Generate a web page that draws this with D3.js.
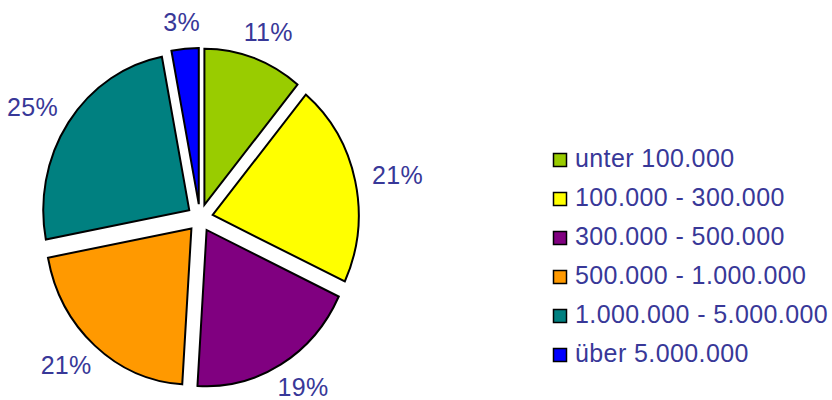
<html>
<head>
  <script src="https://cdn.jsdelivr.net/npm/d3@7"></script>
  <style>
    body { margin: 0; background: #fff; }
    text { font-family: "Liberation Sans", Arial, sans-serif; fill: #383898; }
  </style>
</head>
<body>
<svg id="pie" width="832" height="400"></svg>
<script>
  // data
  const categories = ["unter 100.000", "100.000 - 300.000", "300.000 - 500.000",
                      "500.000 - 1.000.000", "1.000.000 - 5.000.000", "über 5.000.000"];
  const shares = [11, 21, 19, 21, 25, 3];
  const colors = ["#99cc00", "#ffff00", "#800080", "#ff9900", "#008080", "#0000ff"];

  const svg = d3.select("svg#pie");
  const cx = 200, cy = 218;
  const radius = 146, yStretch = 1.07;
  const explode = 13, labelRadius = 177, labelStretch = 1.05;

  const pie = d3.pie().sort(null).value(d => d);
  const arc = d3.arc().innerRadius(0).outerRadius(radius);
  const arcs = pie(shares);

  const chart = svg.append("g")
                   .attr("transform", "translate(" + cx + "," + cy + ") scale(1," + yStretch + ")");

  arcs.forEach((d, i) => {
    const mid = (d.startAngle + d.endAngle) / 2;
    chart.append("path")
         .attr("d", arc(d))
         .attr("transform", "translate(" + (explode * Math.sin(mid)) + "," + (-explode * Math.cos(mid)) + ")")
         .attr("fill", colors[i])
         .attr("stroke", "#000")
         .attr("stroke-width", 2)
         .attr("vector-effect", "non-scaling-stroke");
  });

  // percent labels, box pushed outward from anchor point
  arcs.forEach((d, i) => {
    const mid = (d.startAngle + d.endAngle) / 2;
    const s = Math.sin(mid), c = Math.cos(mid);
    const t = svg.append("text")
                 .attr("font-size", "25px")
                 .attr("letter-spacing", "0.3px")
                 .attr("text-anchor", "middle")
                 .text(shares[i] + "%");
    const w = t.node().getComputedTextLength();
    const h = 22;
    const ax = cx + labelRadius * s;
    const ay = cy - labelRadius * c * labelStretch;
    t.attr("x", ax + (w / 2) * s)
     .attr("y", ay - (h / 2) * c + 8.5);
  });

  // legend
  const legend = svg.append("g").attr("transform", "translate(553,153)");
  categories.forEach((name, i) => {
    const row = legend.append("g").attr("transform", "translate(0," + (i * 39) + ")");
    row.append("rect")
       .attr("x", 0.5).attr("y", 0.5)
       .attr("width", 13).attr("height", 13)
       .attr("fill", colors[i])
       .attr("stroke", "#000")
       .attr("stroke-width", 1.5);
    row.append("text")
       .attr("x", 22).attr("y", 14)
       .attr("font-size", "25px")
       .attr("letter-spacing", "0.4px")
       .text(name);
  });
</script>
</body>
</html>
